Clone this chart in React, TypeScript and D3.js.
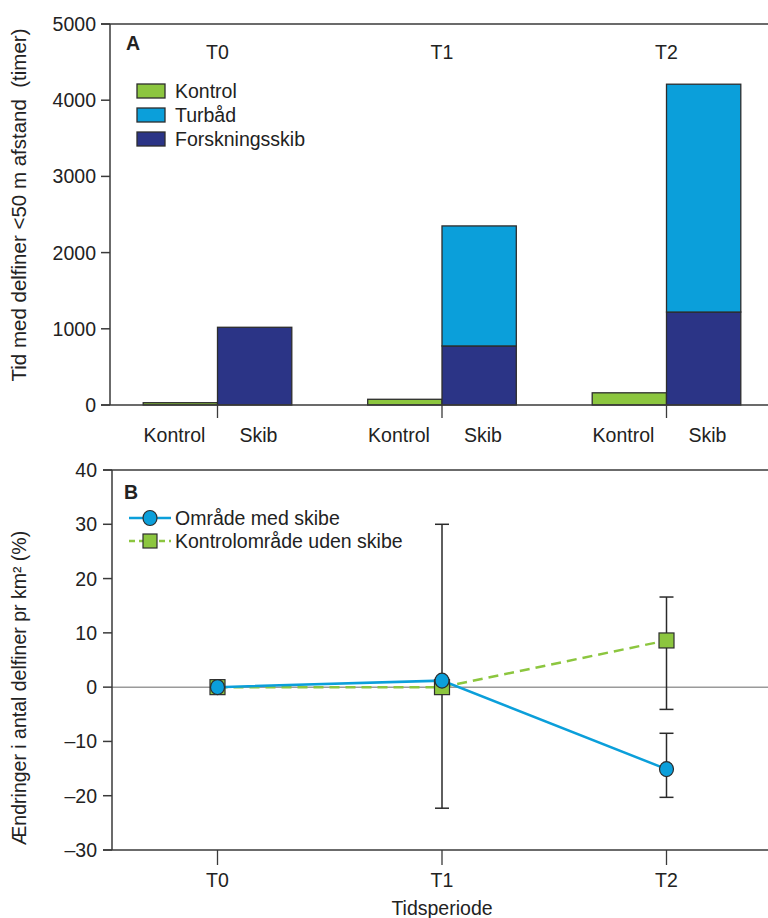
import React from "react";
import * as d3 from "d3";

// Panel A: hours with dolphins within 50 m, per period
const periods = ["T0", "T1", "T2"];
const kontrolHours = [30, 75, 160];
const forskningsskibHours = [1020, 775, 1220];
const turbaadHours = [0, 1575, 2990];
const hourTicks = [0, 1000, 2000, 3000, 4000, 5000];
const legendA = ["Kontrol", "Turbåd", "Forskningsskib"];

// Panel B: change in dolphin density (%)
const skibeChange = [0, 1.2, -15.1];
const skibeLow: (number | null)[] = [null, -22.3, -20.3];
const skibeHigh: (number | null)[] = [null, 30, -8.5];
const kontrolChange = [0, 0, 8.6];
const kontrolLow: (number | null)[] = [null, null, -4.1];
const kontrolHigh: (number | null)[] = [null, null, 16.6];
const changeTicks = [-30, -20, -10, 0, 10, 20, 30, 40];
const legendB = ["Område med skibe", "Kontrolområde uden skibe"];

const GREEN = "#8cc63f";
const BLUE = "#0b9fda";
const NAVY = "#2b3486";
const AXIS = "#3a3a3a";
const FONT = "'Liberation Sans', Arial, Helvetica, sans-serif";
const FS = 19.5;

export default function App() {
  const W = 768;
  const H = 918;
  const x = d3.scalePoint<string>().domain(periods).range([217.5, 666.5]);
  const barW = 74.3;
  const yA = d3.scaleLinear().domain([0, 5000]).range([405, 24]);
  const yB = d3.scaleLinear().domain([-30, 40]).range([850, 470]);
  const fmtMinus = (v: number) => (v < 0 ? "–" + Math.abs(v) : String(v));

  const leftA = 110;
  const leftB = 112;

  const seriesLine = d3
    .line<number>()
    .x((_, i) => x(periods[i])!)
    .y((d) => yB(d));

  const errBars = (
    vals: number[],
    lows: (number | null)[],
    highs: (number | null)[],
    key: string
  ) =>
    vals.map((_, i) => {
      const lo = lows[i];
      const hi = highs[i];
      if (lo == null || hi == null) return null;
      const cx = x(periods[i])!;
      return (
        <g key={key + i} stroke="#2a2a2a" strokeWidth={1.5}>
          <line x1={cx} x2={cx} y1={yB(hi)} y2={yB(lo)} />
          <line x1={cx - 7} x2={cx + 7} y1={yB(hi)} y2={yB(hi)} />
          <line x1={cx - 7} x2={cx + 7} y1={yB(lo)} y2={yB(lo)} />
        </g>
      );
    });

  return (
    <div style={{ position: "absolute", left: 0, top: 0 }}>
      <svg width={W} height={H} style={{ display: "block", background: "#fff" }} fontFamily={FONT}>
        {/* ---------- Panel A ---------- */}
        <g>
          {periods.map((p, i) => {
            const cx = x(p)!;
            const skibBars = [
              { v0: 0, v1: forskningsskibHours[i], fill: NAVY },
              {
                v0: forskningsskibHours[i],
                v1: forskningsskibHours[i] + turbaadHours[i],
                fill: BLUE,
              },
            ];
            return (
              <g key={p}>
                <rect
                  x={cx - barW}
                  y={yA(kontrolHours[i])}
                  width={barW}
                  height={yA(0) - yA(kontrolHours[i])}
                  fill={GREEN}
                  stroke="#2d2d2d"
                  strokeWidth={1.3}
                />
                {skibBars
                  .filter((b) => b.v1 > b.v0)
                  .map((b, j) => (
                    <rect
                      key={j}
                      x={cx}
                      y={yA(b.v1)}
                      width={barW}
                      height={yA(b.v0) - yA(b.v1)}
                      fill={b.fill}
                      stroke="#2d2d2d"
                      strokeWidth={1.3}
                    />
                  ))}
                <line x1={cx} x2={cx} y1={405} y2={418} stroke={AXIS} strokeWidth={1.3} />
                <text x={cx - 43} y={442} fontSize={FS} textAnchor="middle" fill="#222">
                  Kontrol
                </text>
                <text x={cx + 41} y={442} fontSize={FS} textAnchor="middle" fill="#222">
                  Skib
                </text>
                <text x={cx} y={59} fontSize={FS} textAnchor="middle" fill="#222">
                  {p}
                </text>
              </g>
            );
          })}
          {/* axes */}
          <line x1={leftA} x2={leftA} y1={yA(5000)} y2={yA(0)} stroke={AXIS} strokeWidth={1.5} />
          <line x1={leftA - 9} x2={W} y1={yA(5000)} y2={yA(5000)} stroke={AXIS} strokeWidth={1.5} />
          <line x1={leftA - 9} x2={W} y1={yA(0)} y2={yA(0)} stroke={AXIS} strokeWidth={1.5} />
          {hourTicks.map((t) => (
            <g key={t}>
              <line x1={leftA - 9} x2={leftA} y1={yA(t)} y2={yA(t)} stroke={AXIS} strokeWidth={1.5} />
              <text x={leftA - 14} y={yA(t) + 7} fontSize={FS} textAnchor="end" fill="#222">
                {t}
              </text>
            </g>
          ))}
          <text
            transform={`translate(26,205) rotate(-90)`}
            fontSize={20.5}
            textAnchor="middle"
            fill="#222"
            xmlSpace="preserve"
          >
            {"Tid med delfiner <50 m afstand  (timer)"}
          </text>
          <text x={126} y={50} fontSize={FS} fontWeight="bold" fill="#222">
            A
          </text>
          {legendA.map((name, i) => (
            <g key={name} transform={`translate(137,${84 + i * 24})`}>
              <rect width={28} height={14} fill={[GREEN, BLUE, NAVY][i]} stroke="#2d2d2d" strokeWidth={1.3} />
              <text x={38} y={14} fontSize={FS} fill="#222">
                {name}
              </text>
            </g>
          ))}
        </g>

        {/* ---------- Panel B ---------- */}
        <g>
          <line x1={leftB} x2={W} y1={yB(0)} y2={yB(0)} stroke="#9a9a9a" strokeWidth={1.5} />
          <line x1={leftB} x2={leftB} y1={yB(40)} y2={yB(-30)} stroke={AXIS} strokeWidth={1.5} />
          <line x1={leftB - 9} x2={W} y1={yB(40)} y2={yB(40)} stroke={AXIS} strokeWidth={1.5} />
          <line x1={leftB - 9} x2={W} y1={yB(-30)} y2={yB(-30)} stroke={AXIS} strokeWidth={1.5} />
          {changeTicks.map((t) => (
            <g key={t}>
              <line x1={leftB - 9} x2={leftB} y1={yB(t)} y2={yB(t)} stroke={AXIS} strokeWidth={1.5} />
              <text x={leftB - 15} y={yB(t) + 7} fontSize={FS} textAnchor="end" fill="#222">
                {fmtMinus(t)}
              </text>
            </g>
          ))}
          {periods.map((p) => (
            <g key={p}>
              <line x1={x(p)!} x2={x(p)!} y1={yB(-30)} y2={yB(-30) + 15} stroke={AXIS} strokeWidth={1.3} />
              <text x={x(p)!} y={887} fontSize={FS} textAnchor="middle" fill="#222">
                {p}
              </text>
            </g>
          ))}
          <text x={x("T1") as number} y={915} fontSize={FS} textAnchor="middle" fill="#222">
            Tidsperiode
          </text>
          <text
            transform={`translate(26,688) rotate(-90)`}
            fontSize={FS}
            textAnchor="middle"
            fill="#222"
          >
            Ændringer i antal delfiner pr km² (%)
          </text>

          {errBars(kontrolChange, kontrolLow, kontrolHigh, "k")}
          {errBars(skibeChange, skibeLow, skibeHigh, "s")}

          <path
            d={seriesLine(kontrolChange) || ""}
            fill="none"
            stroke={GREEN}
            strokeWidth={2.5}
            strokeDasharray="10 6"
          />
          <path d={seriesLine(skibeChange) || ""} fill="none" stroke={BLUE} strokeWidth={2.5} />
          {kontrolChange.map((v, i) => (
            <rect
              key={"ks" + i}
              x={x(periods[i])! - 7.5}
              y={yB(v) - 7.5}
              width={15}
              height={15}
              fill={GREEN}
              stroke="#2d2d2d"
              strokeWidth={1.2}
            />
          ))}
          {skibeChange.map((v, i) => (
            <ellipse
              key={"sc" + i}
              cx={x(periods[i])!}
              cy={yB(v)}
              rx={7}
              ry={7.5}
              fill={BLUE}
              stroke="#2d2d2d"
              strokeWidth={1.2}
            />
          ))}

          <text x={124} y={499} fontSize={FS} fontWeight="bold" fill="#222">
            B
          </text>
          <g transform="translate(0,518)">
            <line x1={129} x2={171} y1={0} y2={0} stroke={BLUE} strokeWidth={2.5} />
            <ellipse cx={150} cy={0} rx={7} ry={7.5} fill={BLUE} stroke="#2d2d2d" strokeWidth={1.2} />
            <text x={175} y={7} fontSize={FS} fill="#222">
              {legendB[0]}
            </text>
          </g>
          <g transform="translate(0,541)">
            <line x1={129} x2={171} y1={0} y2={0} stroke={GREEN} strokeWidth={2.5} strokeDasharray="6 4" />
            <rect x={143} y={-7} width={14} height={14} fill={GREEN} stroke="#2d2d2d" strokeWidth={1.2} />
            <text x={175} y={7} fontSize={FS} fill="#222">
              {legendB[1]}
            </text>
          </g>
        </g>
      </svg>
    </div>
  );
}
